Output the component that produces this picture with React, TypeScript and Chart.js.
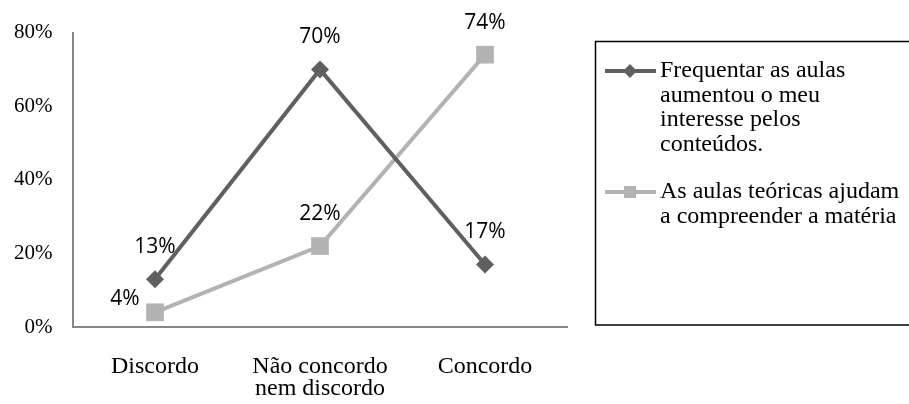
import React, { useEffect, useRef } from "react";
import { Chart, registerables } from "chart.js";

Chart.register(...registerables);

// ---- data ----
const categories: string[][] = [["Discordo"], ["Não concordo", "nem discordo"], ["Concordo"]];
const interestLegend: string[] = ["Frequentar as aulas", "aumentou o meu", "interesse pelos", "conteúdos."];
const theoryLegend: string[] = ["As aulas teóricas ajudam", "a compreender a matéria"];
const interestValues: number[] = [13, 70, 17];
const theoryValues: number[] = [4, 22, 74];
const interestLabelPos: string[] = ["above", "above", "above"];
const theoryLabelPos: string[] = ["left", "above", "above"];
const yTickValues: number[] = [0, 20, 40, 60, 80];

const DARK = "#606060";
const LIGHT = "#b3b3b3";
const SERIF = "'Liberation Serif', 'Times New Roman', serif";
const SANS = "'Open Sans', 'Noto Sans', sans-serif";

const dataLabelPlugin = {
  id: "dataLabels",
  afterDatasetsDraw(chart: any) {
    const ctx = chart.ctx;
    ctx.save();
    ctx.font = `21px ${SANS}`;
    ctx.fillStyle = "#000";
    ctx.textAlign = "center";
    ctx.textBaseline = "middle";
    chart.data.datasets.forEach((ds: any, di: number) => {
      const meta = chart.getDatasetMeta(di);
      meta.data.forEach((pt: any, i: number) => {
        const v = ds.data[i];
        const pos = ds.labelPos[i];
        let x = pt.x;
        let y = pt.y - 32;
        if (pos === "left") {
          x = pt.x - 30;
          y = pt.y - 13;
        }
        ctx.fillText(`${v}%`, x, y);
      });
    });
    ctx.restore();
  },
};

const boxLegendPlugin = {
  id: "boxLegend",
  afterDraw(chart: any) {
    const ctx = chart.ctx;
    ctx.save();
    const left = 595.5;
    const top = 41.5;
    const bottom = 325;
    const right = chart.width + 20;
    ctx.strokeStyle = "#000";
    ctx.lineWidth = 1.5;
    ctx.beginPath();
    ctx.moveTo(right, top);
    ctx.lineTo(left, top);
    ctx.lineTo(left, bottom);
    ctx.lineTo(right, bottom);
    ctx.stroke();

    const entryTops = [71, 192];
    const lineH = 24.5;
    chart.data.datasets.forEach((ds: any, di: number) => {
      const y = entryTops[di];
      ctx.strokeStyle = ds.borderColor;
      ctx.lineWidth = 4;
      ctx.beginPath();
      ctx.moveTo(605, y);
      ctx.lineTo(656, y);
      ctx.stroke();
      ctx.fillStyle = ds.pointBackgroundColor;
      ctx.beginPath();
      if (ds.pointStyle === "rectRot") {
        const r = 7;
        ctx.moveTo(630, y - r);
        ctx.lineTo(630 + r, y);
        ctx.lineTo(630, y + r);
        ctx.lineTo(630 - r, y);
        ctx.closePath();
      } else {
        ctx.rect(630 - 6, y - 6, 12, 12);
      }
      ctx.fill();

      ctx.fillStyle = "#000";
      ctx.font = `24px ${SERIF}`;
      ctx.textAlign = "left";
      ctx.textBaseline = "middle";
      (ds.legendLines as string[]).forEach((line, li) => {
        ctx.fillText(line, 660, y + li * lineH);
      });
    });
    ctx.restore();
  },
};

export default function App() {
  const canvasRef = useRef<HTMLCanvasElement | null>(null);

  useEffect(() => {
    if (!canvasRef.current) return;
    const chart = new Chart(canvasRef.current, {
      type: "line",
      data: {
        labels: categories,
        datasets: [
          {
            label: interestLegend.join(" "),
            data: interestValues,
            borderColor: DARK,
            backgroundColor: DARK,
            pointBackgroundColor: DARK,
            pointBorderColor: DARK,
            pointStyle: "rectRot",
            pointRadius: 9,
            pointBorderWidth: 0,
            borderWidth: 4,
            tension: 0,
            clip: false,
            legendLines: interestLegend,
            labelPos: interestLabelPos,
          } as any,
          {
            label: theoryLegend.join(" "),
            data: theoryValues,
            borderColor: LIGHT,
            backgroundColor: LIGHT,
            pointBackgroundColor: LIGHT,
            pointBorderColor: LIGHT,
            pointStyle: "rect",
            pointRadius: 12.5,
            pointBorderWidth: 0,
            borderWidth: 4,
            tension: 0,
            clip: false,
            legendLines: theoryLegend,
            labelPos: theoryLabelPos,
          } as any,
        ],
      },
      options: {
        animation: false,
        responsive: true,
        maintainAspectRatio: false,
        layout: { padding: { top: 30, right: 341.5, left: 0, bottom: 0 } },
        plugins: {
          legend: { display: false },
          tooltip: { enabled: false },
        },
        scales: {
          x: {
            offset: true,
            grid: { display: false, drawTicks: false },
            border: { display: true, color: "#878787", width: 2 },
            ticks: {
              color: "#000",
              padding: 29,
              maxRotation: 0,
              autoSkip: false,
              font: { family: SERIF, size: 24, lineHeight: 22 / 24 },
            },
            afterFit(scale: any) {
              scale.height = 77;
            },
          },
          y: {
            min: 0,
            max: 80,
            grid: { display: false, drawTicks: false },
            border: { display: true, color: "#878787", width: 2 },
            afterBuildTicks(scale: any) {
              scale.ticks = yTickValues.map((v) => ({ value: v }));
            },
            ticks: {
              color: "#000",
              padding: 20,
              callback: (v: any) => `${v}%`,
              font: { family: SERIF, size: 21 },
            },
            afterFit(scale: any) {
              scale.width = 72.5;
            },
          },
        },
      },
      plugins: [dataLabelPlugin, boxLegendPlugin],
    });
    return () => chart.destroy();
  }, []);

  return (
    <div style={{ position: "absolute", left: 0, top: 0, width: 909, height: 404, background: "#fff" }}>
      <canvas ref={canvasRef} />
    </div>
  );
}
